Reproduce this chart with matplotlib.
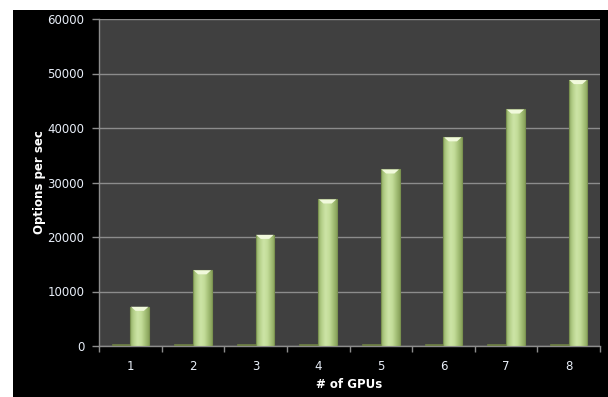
import numpy as np
import matplotlib.pyplot as plt
from matplotlib.colors import LinearSegmentedColormap
from matplotlib.patches import Rectangle, Polygon

# throughput per GPU count
gpus = [1, 2, 3, 4, 5, 6, 7, 8]
options_per_sec = [7200, 13900, 20400, 26900, 32400, 38300, 43400, 48800]
baseline = [400, 400, 400, 400, 400, 400, 400, 400]

fig = plt.figure(figsize=(6.08, 3.97), dpi=100, facecolor='white')
fig.patches.append(Rectangle((13 / 608, 0), 1 - 13 / 608, 387 / 397,
                             transform=fig.transFigure, facecolor='black',
                             edgecolor='none', zorder=-10))

ax = fig.add_axes([99 / 608, 51 / 397, 501 / 608, 327 / 397])
ax.set_facecolor('#404040')

x = np.arange(len(gpus)) + 1
w = 0.3

# flat dark bars near the floor
ax.bar(x - w / 2, baseline, width=w, color='#6f8046', edgecolor='#6f8046',
       linewidth=0.5, zorder=3)

# main bars with a horizontal shading
cmap = LinearSegmentedColormap.from_list(
    'cyl', ['#93ad66', '#b7d28c', '#cde4a6', '#c4dd9a', '#a7c27a', '#8aa45c'])
grad = np.linspace(0, 1, 64).reshape(1, -1)
bars = ax.bar(x + w / 2, options_per_sec, width=w, color='none',
              edgecolor='#7a9250', linewidth=0.8, zorder=5)
for b, v in zip(bars, options_per_sec):
    x0 = b.get_x()
    im = ax.imshow(grad, cmap=cmap, aspect='auto', interpolation='bicubic',
                   extent=(x0, x0 + w, 0, v), zorder=4)
    im.set_clip_path(b)
    cap = 750
    ax.add_patch(Polygon([(x0 + 0.01, v), (x0 + w - 0.01, v),
                          (x0 + w * 0.72, v - cap), (x0 + w * 0.28, v - cap)],
                         closed=True, facecolor='#f1f9dc', edgecolor='none',
                         zorder=6))

ax.set_xlim(0.5, 8.5)
ax.set_ylim(0, 60000)
ax.set_yticks(range(0, 60001, 10000))
ax.set_xticks(x)
ax.set_xticks(np.arange(0.5, 9, 1), minor=True)
ax.set_xticklabels([str(g) for g in gpus])

ax.yaxis.grid(True, color='#8c8c8c', linewidth=1.0, zorder=1)
ax.set_axisbelow(True)
for s in ['top', 'right']:
    ax.spines[s].set_visible(False)
for s in ['left', 'bottom']:
    ax.spines[s].set_color('#8c8c8c')
    ax.spines[s].set_linewidth(1.0)

ax.tick_params(axis='y', colors='#8c8c8c', labelcolor='#e8eef8', length=5,
               width=1, labelsize=8.5, pad=5.5)
ax.tick_params(axis='x', which='major', length=0, labelcolor='#e8eef8',
               labelsize=8.5, pad=10)
ax.tick_params(axis='x', which='minor', length=4, width=1, color='#8c8c8c')

ax.set_ylabel('Options per sec', color='white', fontsize=8.5,
              fontweight='bold', labelpad=1)
ax.set_xlabel('# of GPUs', color='white', fontsize=8.5, fontweight='bold',
              labelpad=4)

fig.savefig('out.png', dpi=100, facecolor=fig.get_facecolor())
